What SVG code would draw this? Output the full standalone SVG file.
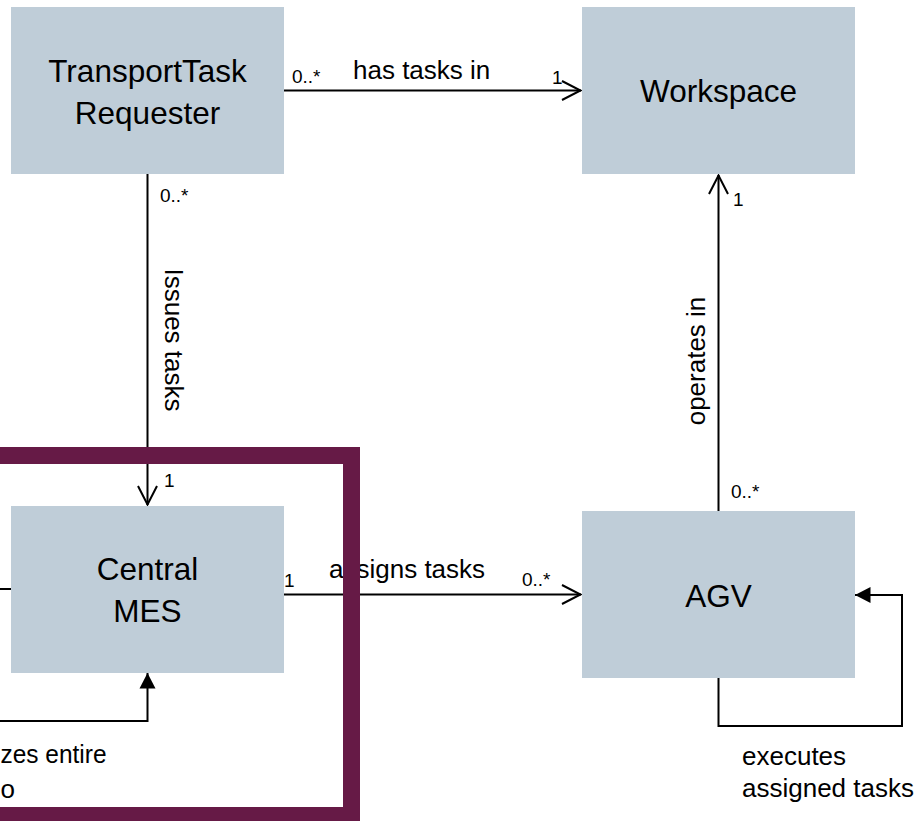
<svg xmlns="http://www.w3.org/2000/svg" width="922" height="821" viewBox="0 0 922 821">
  <defs>
    <style>
      .box { fill: #BFCDD8; }
      .name { font-family: "Liberation Sans", Arial, sans-serif; font-size: 31.5px; fill: #000; text-anchor: middle; }
      .lbl { font-family: "Liberation Sans", Arial, sans-serif; font-size: 26px; fill: #000; }
      .mult { font-family: "Liberation Sans", Arial, sans-serif; font-size: 19px; fill: #000; }
      .edge { fill: none; stroke: #000; stroke-width: 2; }
      .frame { fill: none; stroke: #661A46; stroke-width: 17; }
    </style>
    <marker id="open" markerUnits="userSpaceOnUse" markerWidth="24" markerHeight="24" viewBox="-22 -12 24 24" refX="0" refY="0" orient="auto">
      <path d="M-19,-9.5 L-0.5,0 L-19,9.5" fill="none" stroke="#000" stroke-width="2"/>
    </marker>
    <marker id="solid" markerUnits="userSpaceOnUse" markerWidth="18" markerHeight="18" viewBox="-16 -9 17 18" refX="0" refY="0" orient="auto">
      <path d="M-15.5,-8 L0,0 L-15.5,8 Z" fill="#000"/>
    </marker>
  </defs>

  <g id="connectors">
    <!-- TransportTask Requester -> Workspace -->
    <line class="edge" x1="284" y1="90.5" x2="581" y2="90.5" marker-end="url(#open)"/>
    <text class="mult" x="292" y="83">0..*</text>
    <text class="lbl" x="353" y="79">has tasks in</text>
    <text class="mult" x="552" y="84">1</text>

    <!-- TransportTask Requester -> Central MES -->
    <line class="edge" x1="147.5" y1="174" x2="147.5" y2="505" marker-end="url(#open)"/>
    <text class="mult" x="160" y="202">0..*</text>
    <text class="lbl" transform="translate(165,340) rotate(90)" text-anchor="middle">Issues tasks</text>
    <text class="mult" x="164" y="487">1</text>

    <!-- Central MES -> AGV -->
    <line class="edge" x1="284" y1="594.5" x2="581" y2="594.5" marker-end="url(#open)"/>
    <text class="mult" x="284" y="587">1</text>
    <text class="lbl" x="329" y="578">assigns tasks</text>
    <text class="mult" x="522" y="586">0..*</text>

    <!-- AGV -> Workspace -->
    <line class="edge" x1="718.5" y1="511" x2="718.5" y2="175" marker-end="url(#open)"/>
    <text class="mult" x="733" y="206">1</text>
    <text class="mult" x="731" y="498">0..*</text>
    <text class="lbl" transform="translate(705,361) rotate(-90)" text-anchor="middle">operates in</text>

    <!-- AGV self loop -->
    <polyline class="edge" points="718.5,678 718.5,726 902,726 902,595 855,595" marker-end="url(#solid)"/>
    <text class="lbl" x="742" y="765">executes</text>
    <text class="lbl" x="742" y="797">assigned tasks</text>

    <!-- incoming from the left into Central MES -->
    <line class="edge" x1="-10" y1="589" x2="11" y2="589"/>

    <!-- loop back into Central MES from below -->
    <polyline class="edge" points="-10,721 147.5,721 147.5,673" marker-end="url(#solid)"/>
    <text class="lbl" x="0.5" y="763" textLength="106" lengthAdjust="spacingAndGlyphs">zes entire</text>
    <text class="lbl" x="0.5" y="798">o</text>
  </g>

  <g id="transport-task-requester">
    <rect class="box" x="11" y="7" width="273" height="167"/>
    <text class="name" x="147.5" y="82">TransportTask</text>
    <text class="name" x="147.5" y="123.5">Requester</text>
  </g>

  <g id="workspace">
    <rect class="box" x="582" y="7" width="273" height="167"/>
    <text class="name" x="718.5" y="101.5">Workspace</text>
  </g>

  <g id="central-mes">
    <rect class="box" x="11" y="506" width="273" height="167"/>
    <text class="name" x="147.5" y="580">Central</text>
    <text class="name" x="147.5" y="621.5">MES</text>
  </g>

  <g id="agv">
    <rect class="box" x="582" y="511" width="273" height="167"/>
    <text class="name" x="718.5" y="606.5">AGV</text>
  </g>

  <!-- highlight frame around Central MES -->
  <g id="highlight">
    <rect class="frame" x="-30" y="455.5" width="381.5" height="360"/>
  </g>
</svg>
